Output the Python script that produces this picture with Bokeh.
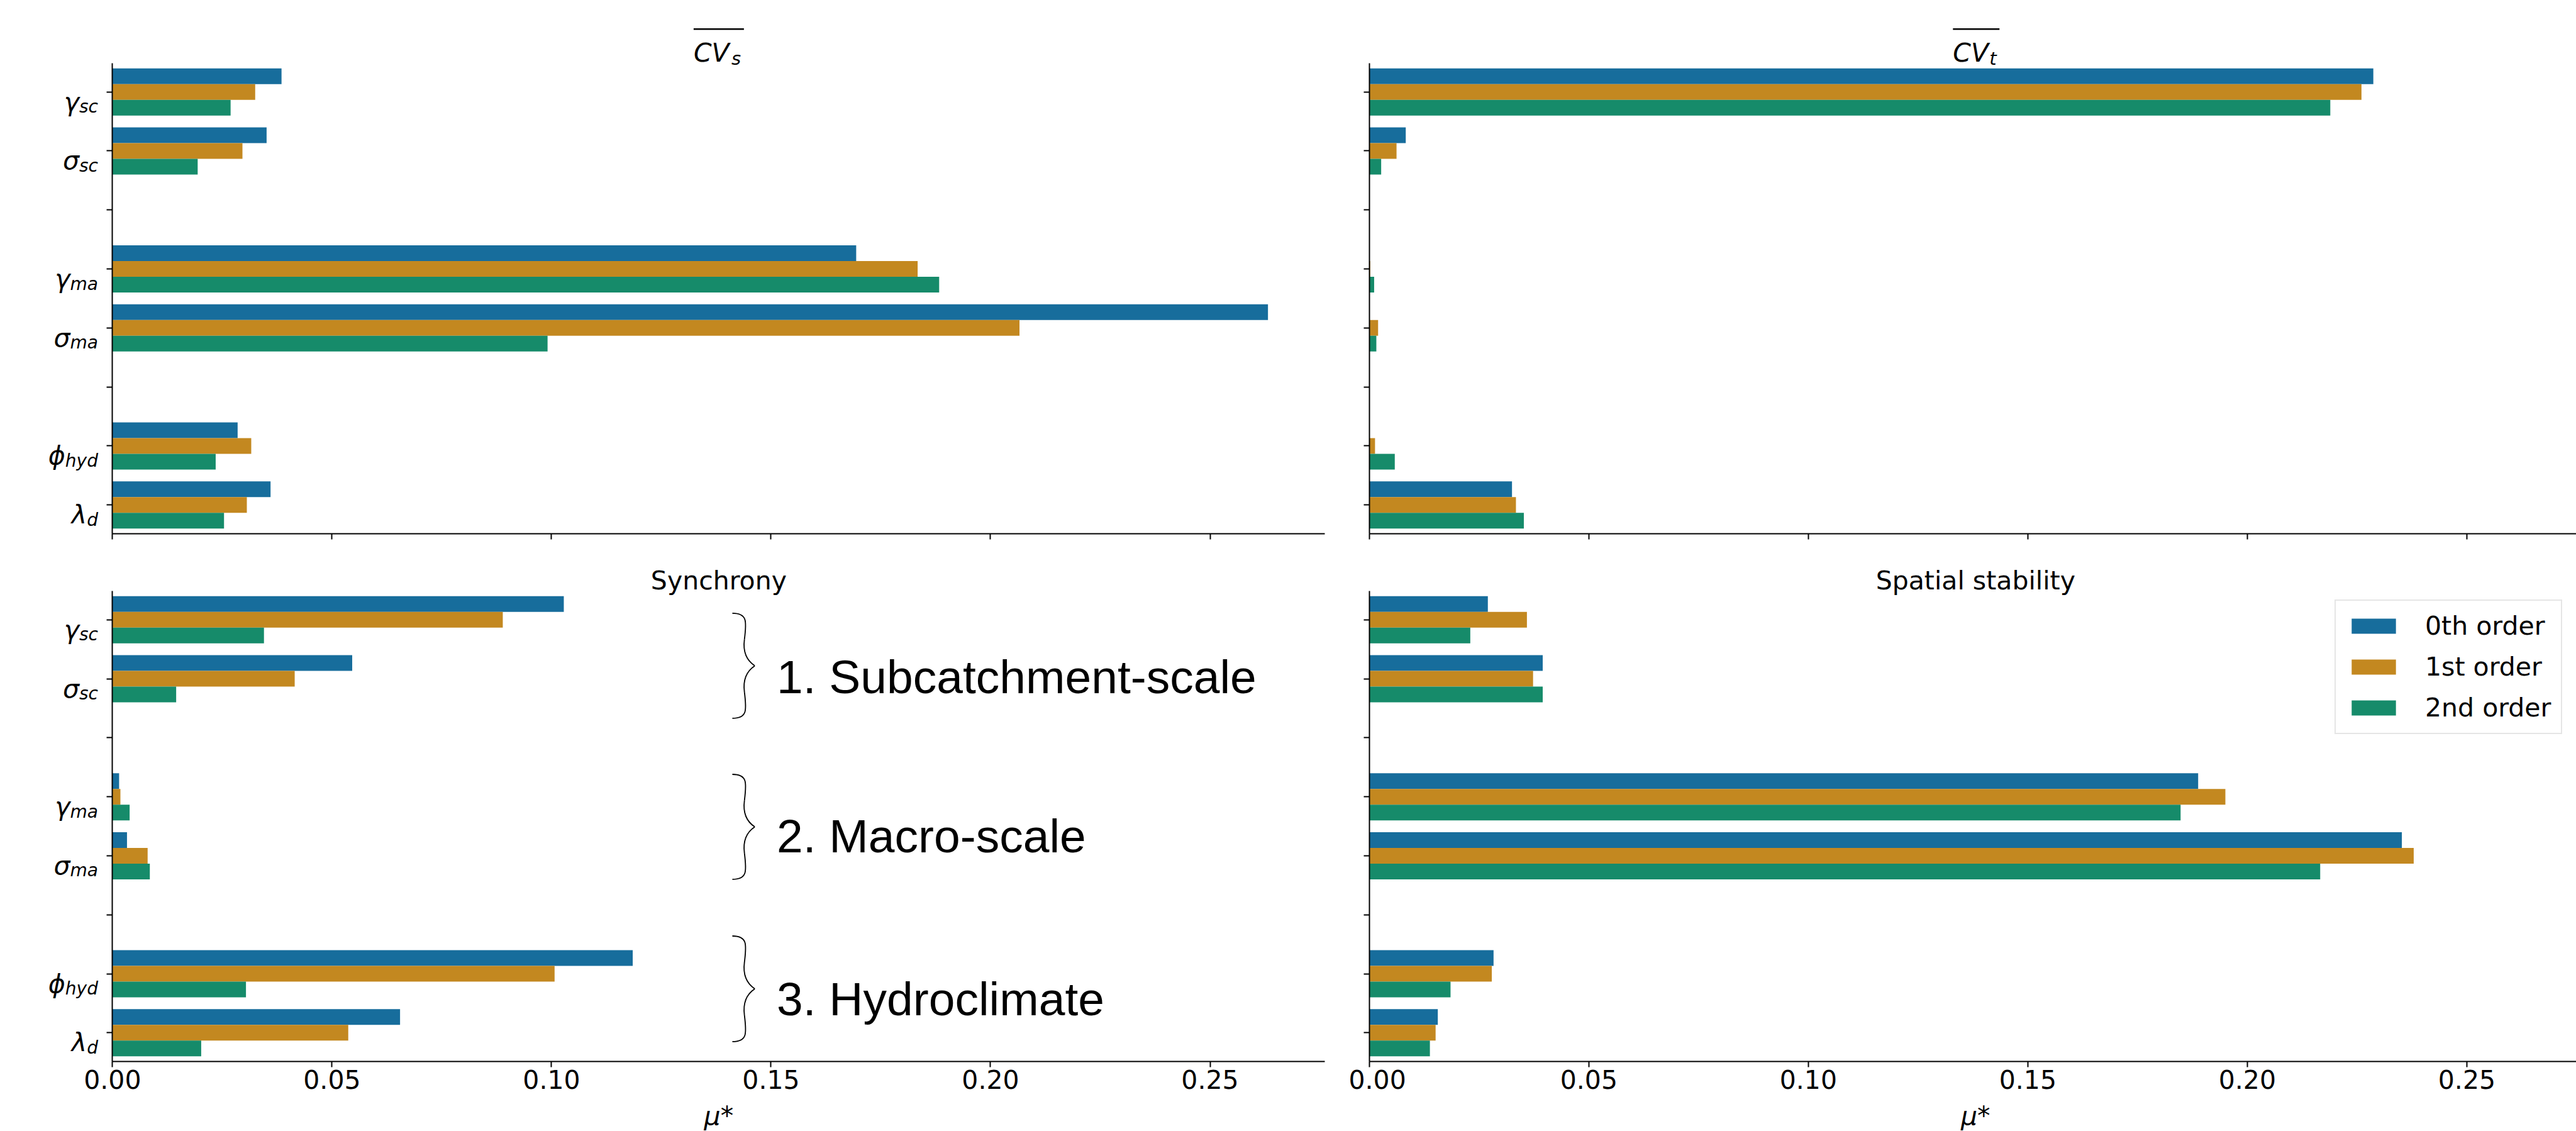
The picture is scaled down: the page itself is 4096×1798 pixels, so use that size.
from bokeh.plotting import figure
from bokeh.models import (Range1d, FixedTicker, PrintfTickFormatter, CustomJSTickFormatter,
                          Label, Arrow, Legend, LegendItem, ColumnDataSource)
from bokeh.layouts import column, row
from bokeh.embed import file_html
from bokeh.resources import INLINE

# ---------------- data ----------------
slot_main = ["γ", "σ", "", "γ", "σ", "", "ϕ", "λ"]        # y slots (blank = spacer)
slot_sub = ["sc", "sc", "", "ma", "ma", "", "hyd", "d"]
orders = ["0th order", "1st order", "2nd order"]
colors = ["#176d9c", "#c38820", "#168b6a"]
x_ticks = [0.0, 0.05, 0.10, 0.15, 0.20, 0.25]

# values for the 6 parameters: γsc, σsc, γma, σma, ϕhyd, λd
cvs_0th = [0.0385, 0.0351, 0.1694, 0.2632, 0.0285, 0.0360]
cvs_1st = [0.0325, 0.0296, 0.1834, 0.2066, 0.0316, 0.0306]
cvs_2nd = [0.0269, 0.0194, 0.1883, 0.0991, 0.0235, 0.0254]

cvt_0th = [0.2287, 0.0083, 0.0000, 0.0000, 0.0000, 0.0325]
cvt_1st = [0.2260, 0.0062, 0.0002, 0.0020, 0.0013, 0.0334]
cvt_2nd = [0.2189, 0.0027, 0.0011, 0.0016, 0.0058, 0.0352]

syn_0th = [0.1028, 0.0546, 0.0015, 0.0033, 0.1185, 0.0655]
syn_1st = [0.0889, 0.0415, 0.0018, 0.0080, 0.1007, 0.0537]
syn_2nd = [0.0345, 0.0145, 0.0039, 0.0085, 0.0304, 0.0202]

spa_0th = [0.0270, 0.0395, 0.1888, 0.2352, 0.0283, 0.0156]
spa_1st = [0.0359, 0.0373, 0.1950, 0.2379, 0.0279, 0.0151]
spa_2nd = [0.0230, 0.0395, 0.1848, 0.2166, 0.0185, 0.0138]

group_names = ["1. Subcatchment-scale", "2. Macro-scale", "3. Hydroclimate"]

# ---------------- layout constants ----------------
FONT = "DejaVu Sans"
FS = "41px"
Y_TOP, Y_BOT = -0.49, 7.49
XMAX = 0.2762
PPX = 1928 / XMAX                 # px per x unit
PPY = 748.5 / (Y_BOT - Y_TOP)     # px per category slot
XC = XMAX / 2
BAR_H = 0.8 / 3

slots = [i for i, m in enumerate(slot_main) if m]

# DejaVu Sans Oblique advance widths (em) for subscripts
ADV = {"s": 0.521, "c": 0.550, "m": 0.974, "a": 0.613, "h": 0.634, "y": 0.592, "d": 0.635, "t": 0.392}
SUB_FS = 28
MAIN_FS = 41


def make_panel(series, W, H, L, T, xaxis_end, show_xlabels, show_ylabels):
    x_range = Range1d(-L / PPX, (W - L) / PPX)
    y_range = Range1d(Y_TOP + (H - T) / PPY, Y_TOP - T / PPY)
    p = figure(width=W, height=H, min_border=0,
               x_range=x_range, y_range=y_range,
               toolbar_location=None, tools="", output_backend="svg")
    p.outline_line_color = None
    p.xgrid.visible = False
    p.ygrid.visible = False
    p.background_fill_color = "white"
    p.border_fill_color = "white"
    for ax in (p.xaxis[0], p.yaxis[0]):
        ax.axis_line_width = 2
        ax.axis_line_color = "black"
        ax.major_tick_line_width = 2
        ax.major_tick_line_color = "black"
        ax.major_tick_out = 9
        ax.major_tick_in = 0
        ax.minor_tick_out = 0
        ax.minor_tick_in = 0
    p.xaxis.fixed_location = Y_BOT
    p.xaxis.bounds = (0, xaxis_end)
    p.yaxis.fixed_location = 0
    p.yaxis.bounds = (Y_TOP, Y_BOT)
    p.xaxis.ticker = FixedTicker(ticks=x_ticks)
    p.yaxis.ticker = FixedTicker(ticks=list(range(len(slot_main))))
    p.yaxis.formatter = CustomJSTickFormatter(code="return ''")
    p.yaxis.major_label_text_font_size = "0px"
    if show_xlabels:
        p.xaxis.formatter = PrintfTickFormatter(format="%.2f")
        p.xaxis.major_label_text_font = FONT
        p.xaxis.major_label_text_font_size = FS
        p.xaxis.major_label_text_color = "black"
        p.xaxis.major_label_standoff = 4
    else:
        p.xaxis.formatter = CustomJSTickFormatter(code="return ''")
        p.xaxis.major_label_text_font_size = "0px"

    renderers = []
    for k, vals in enumerate(series):
        src = ColumnDataSource(dict(y=[s + (k - 1) * BAR_H for s in slots], v=vals))
        r = p.hbar(y="y", left=0, right="v", height=BAR_H, source=src,
                   fill_color=colors[k], line_color=None)
        renderers.append(r)

    if show_ylabels:
        for s in slots:
            sub = slot_sub[s]
            sw = sum(ADV[ch] for ch in sub) * SUB_FS
            p.add_layout(Label(x=0, y=s, x_offset=-23 - sw, y_offset=-15.5,
                               text=slot_main[s], text_align="right", text_baseline="alphabetic",
                               text_font=FONT, text_font_style="italic",
                               text_font_size=f"{MAIN_FS}px", text_color="black"))
            p.add_layout(Label(x=0, y=s, x_offset=-23, y_offset=-23.5,
                               text=sub, text_align="right", text_baseline="alphabetic",
                               text_font=FONT, text_font_style="italic",
                               text_font_size=f"{SUB_FS}px", text_color="black"))
    if show_xlabels:
        p.add_layout(Label(x=XC, y=Y_BOT, y_offset=-86, text="μ*", text_align="center",
                           text_baseline="alphabetic", text_font=FONT, text_font_style="italic",
                           text_font_size=FS, text_color="black"))
    return p, renderers


def cv_title(p, sub, cv_off, sub_off, ol_l, ol_r):
    p.add_layout(Label(x=XC, y=Y_TOP, x_offset=cv_off, y_offset=16.5, text="CV",
                       text_align="left", text_baseline="alphabetic", text_font=FONT,
                       text_font_style="italic", text_font_size="41px", text_color="black"))
    p.add_layout(Label(x=XC, y=Y_TOP, x_offset=sub_off, y_offset=7.5, text=sub,
                       text_align="left", text_baseline="alphabetic", text_font=FONT,
                       text_font_style="italic", text_font_size="29px", text_color="black"))
    yo = Y_TOP - 54 / PPY
    p.add_layout(Arrow(start=None, end=None, x_start=XC + ol_l / PPX, x_end=XC + ol_r / PPX,
                       y_start=yo, y_end=yo, line_width=2.5, line_color="black"))


def plain_title(p, text):
    p.add_layout(Label(x=XC, y=Y_TOP, y_offset=16.5, text=text, text_align="center",
                       text_baseline="alphabetic", text_font=FONT, text_font_size=FS,
                       text_color="black"))


# window is 4096 x 1798; the page itself has no margin
W_L, W_R = 2144, 1952
H_TOP, H_BOT = 893, 905
L_L, L_R = 178.4, 32.8
T_TOP, T_BOT = 99.7, 45.8
XEND_R = (W_R - L_R) / PPX

p1, _ = make_panel([cvs_0th, cvs_1st, cvs_2nd], W_L, H_TOP, L_L, T_TOP, XMAX, False, True)
p2, _ = make_panel([cvt_0th, cvt_1st, cvt_2nd], W_R, H_TOP, L_R, T_TOP, XEND_R, False, False)
p3, _ = make_panel([syn_0th, syn_1st, syn_2nd], W_L, H_BOT, L_L, T_BOT, XMAX, True, True)
p4, rs4 = make_panel([spa_0th, spa_1st, spa_2nd], W_R, H_BOT, L_R, T_BOT, XEND_R, True, False)

cv_title(p1, "s", -40, 20, -40, 40)
cv_title(p2, "t", -36, 22, -36, 38)
plain_title(p3, "Synchrony")
plain_title(p4, "Spatial stability")


# braces + group labels on the synchrony panel
def rx(X):
    return (X - 195) / 7628.0


XE, XH, XH2, XA, XA2, XC2, XT = rx(1272), rx(1298), rx(1297), rx(1293), rx(1290), rx(1297), rx(1311)
brace_spans = [(-0.11, 1.67), (2.62, 4.40), (5.36, 7.15)]
text_base = [0.967, 3.668, 6.43]
bx0, by0, bx1, by1, bcx0, bcy0, bcx1, bcy1 = ([] for _ in range(8))
for ya, yb in brace_spans:
    yc = (ya + yb) / 2
    h = yc - ya
    segs = [
        ((XE, ya), (XH, ya), (XH2, ya + 0.15 * h), (XA, ya + 0.5 * h)),
        ((XA, ya + 0.5 * h), (XA2, ya + 0.75 * h), (XC2, ya + 0.9 * h), (XT, yc)),
        ((XT, yc), (XC2, yc + 0.1 * h), (XA2, yc + 0.25 * h), (XA, yc + 0.5 * h)),
        ((XA, yc + 0.5 * h), (XH2, yb - 0.15 * h), (XH, yb), (XE, yb)),
    ]
    for a, c0, c1, b in segs:
        bx0.append(a[0]); by0.append(a[1]); bx1.append(b[0]); by1.append(b[1])
        bcx0.append(c0[0]); bcy0.append(c0[1]); bcx1.append(c1[0]); bcy1.append(c1[1])
p3.bezier(x0=bx0, y0=by0, x1=bx1, y1=by1, cx0=bcx0, cy0=bcy0, cx1=bcx1, cy1=bcy1,
          line_color="black", line_width=1.8)
for name, yb in zip(group_names, text_base):
    p3.add_layout(Label(x=rx(1349), y=yb, text=name, text_align="left",
                        text_baseline="alphabetic", text_font="Liberation Sans",
                        text_font_size="75px", text_color="black"))

legend = Legend(items=[LegendItem(label=o, renderers=[r]) for o, r in zip(orders, rs4)],
                location=(1568, 631),
                label_text_font=FONT, label_text_font_size=FS, label_text_color="black",
                glyph_width=88, glyph_height=30, label_standoff=38, label_height=30,
                padding=16, spacing=17, border_line_color="#cccccc", border_line_width=2,
                background_fill_alpha=0.8)
p4.add_layout(legend)

layout = column(row(p1, p2), row(p3, p4))
open("out.html", "w").write(file_html(layout, INLINE))
